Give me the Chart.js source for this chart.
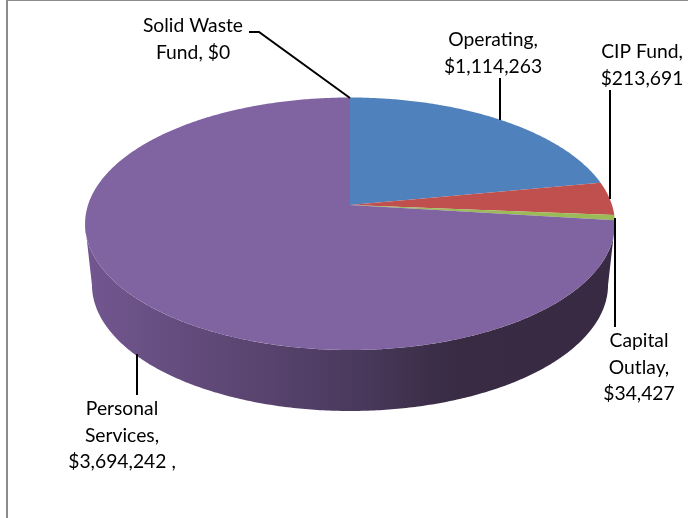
<!DOCTYPE html>
<html>
<head>
<meta charset="utf-8">
<title>Expenditures by fund</title>
<script src="https://cdn.jsdelivr.net/npm/chart.js@4/dist/chart.umd.js"></script>
<style>
    html, body { margin: 0; padding: 0; background: #fff; }
    #wrap { position: relative; width: 688px; height: 518px; overflow: hidden; }
    #wrap canvas { position: absolute; left: 0; top: 0; }
    /* frame of the chart box, only top and left are in view */
    #frame { position: absolute; left: 6px; top: 0; right: 0; bottom: 0; border-left: 2px solid #8c8c8c; border-top: 1px solid #8c8c8c; }
</style>
</head>
<body>
<div id="wrap">
    <canvas id="budgetChart" width="688" height="518"></canvas>
    <div id="frame"></div>
</div>
<script>
const categories = ['Operating', 'CIP Fund', 'Capital Outlay', 'Personal Services', 'Solid Waste Fund'];
const amounts = [1114263, 213691, 34427, 3694242, 0];
const sliceColors = ['#4F81BD', '#C0504D', '#9BBB59', '#8064A2', '#4BACC6'];

// words per line of each callout, and what trails the amount
const lineWords = [[1, 1], [2, 1], [1, 1, 1], [1, 1, 2], [2, 2]];
const labelSuffix = ['', '', '', ' ,', ''];

// callout text anchor (centre x, first line y) and leader polyline
const callouts = [
    { x: 493, y: 40, leader: [[500, 78], [500, 120]] },
    { x: 642, y: 52, leader: [[610, 90], [610, 199]] },
    { x: 639, y: 341, leader: [[615, 218], [615, 327]] },
    { x: 122, y: 409, leader: [[137, 354], [137, 395]] },
    { x: 193, y: 26, leader: [[249, 32], [259, 32], [350, 98]] }
];

// tilted disc: perspective projection of the unit circle
const disc = { cx: 350, cy: 205, a: 262, b: 123.46, k: 0.1485, depth: 61, baseScale: 0.974 };
const sideFrom = 98.65 * Math.PI / 180;
const sideTo = 261.35 * Math.PI / 180;

function project(theta) {
    const u = Math.sin(theta), v = -Math.cos(theta);
    const w = 1 - disc.k * v;
    return [disc.cx + disc.a * u / w, disc.cy + disc.b * v / w];
}

function projectBase(theta) {
    const p = project(theta);
    return [disc.cx + (p[0] - disc.cx) * disc.baseScale, p[1] + disc.depth];
}

function rimPoints(from, to, fn) {
    const steps = Math.max(2, Math.ceil((to - from) / 0.01));
    const pts = [];
    for (let i = 0; i <= steps; i++) pts.push(fn(from + (to - from) * i / steps));
    return pts;
}

function tracePoints(ctx, pts) {
    pts.forEach((p, i) => i ? ctx.lineTo(p[0], p[1]) : ctx.moveTo(p[0], p[1]));
}

// arcs keep the angles the pie controller gives them, only the shape is projected
const ArcElement = Chart.registry.getElement('arc');
ArcElement.prototype.draw = function (ctx) {
    if (this.circumference <= 0) return;
    const start = this.startAngle + Math.PI / 2;
    const end = this.endAngle + Math.PI / 2;

    // outer wall
    const wallFrom = Math.max(start, sideFrom);
    const wallTo = Math.min(end, sideTo);
    if (wallTo > wallFrom) {
        const shade = ctx.createLinearGradient(85, 0, 615, 0);
        shade.addColorStop(0, '#725790');
        shade.addColorStop(0.5, '#4B3A5E');
        shade.addColorStop(0.7, '#382B43');
        shade.addColorStop(1, '#372A42');
        ctx.beginPath();
        tracePoints(ctx, rimPoints(wallFrom, wallTo, project).concat(rimPoints(wallFrom, wallTo, projectBase).reverse()));
        ctx.closePath();
        ctx.fillStyle = shade;
        ctx.fill();
    }

    // top face
    ctx.beginPath();
    tracePoints(ctx, [[disc.cx, disc.cy]].concat(rimPoints(start, end, project)));
    ctx.closePath();
    ctx.fillStyle = this.options.backgroundColor;
    ctx.fill();
};

function moneyText(value) {
    return '$' + value.toLocaleString('en-US');
}

const calloutPlugin = {
    id: 'callouts',
    afterDatasetsDraw(chart) {
        const ctx = chart.ctx;
        ctx.save();
        ctx.strokeStyle = '#000';
        ctx.lineWidth = 2;
        callouts.forEach(c => {
            ctx.beginPath();
            tracePoints(ctx, c.leader);
            ctx.stroke();
        });
        ctx.fillStyle = '#000';
        ctx.font = '19.3px Lato';
        ctx.textAlign = 'center';
        ctx.textBaseline = 'middle';
        categories.forEach((name, i) => {
            const words = (name + ', ' + moneyText(amounts[i]) + labelSuffix[i]).split(' ');
            let used = 0;
            lineWords[i].forEach((count, line) => {
                const text = words.slice(used, used + count).join(' ');
                used += count;
                ctx.fillText(text, callouts[i].x, callouts[i].y + line * 26.3);
            });
        });
        ctx.restore();
    }
};

new Chart(document.getElementById('budgetChart'), {
    type: 'pie',
    data: {
        labels: categories,
        datasets: [{
            data: amounts,
            backgroundColor: sliceColors,
            borderWidth: 0
        }]
    },
    options: {
        responsive: false,
        animation: false,
        events: [],
        plugins: {
            legend: { display: false },
            tooltip: { enabled: false }
        }
    },
    plugins: [calloutPlugin]
});
</script>
</body>
</html>
